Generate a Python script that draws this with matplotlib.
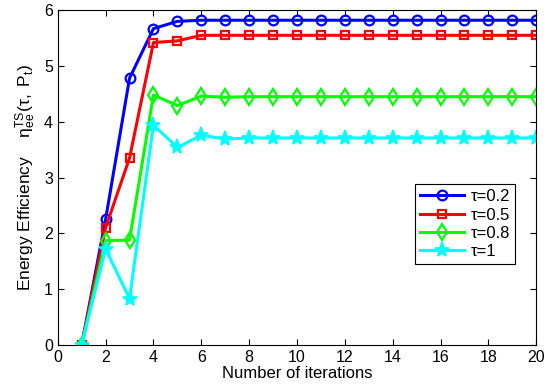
import matplotlib
matplotlib.use("Agg")
import matplotlib.pyplot as plt

iterations = list(range(1, 21))
tau02 = [0, 2.25, 4.78, 5.67, 5.80, 5.82] + [5.82] * 14
tau05 = [0, 2.10, 3.35, 5.42, 5.45, 5.55] + [5.55] * 14
tau08 = [0, 1.87, 1.88, 4.48, 4.29, 4.46, 4.44] + [4.45] * 13
tau1 = [0, 1.72, 0.83, 3.94, 3.54, 3.76, 3.69] + [3.71] * 13
labels = ["τ=0.2", "τ=0.5", "τ=0.8", "τ=1"]

plt.rcParams['font.family'] = ['Liberation Sans', 'DejaVu Sans']
plt.rcParams['mathtext.fontset'] = 'custom'
plt.rcParams['mathtext.rm'] = 'Liberation Sans'
plt.rcParams['mathtext.it'] = 'Liberation Sans'
fig = plt.figure(figsize=(5.5, 3.92), dpi=100)
ax = fig.add_axes([0.105, 0.12, 0.87, 0.854])

ax.plot(iterations, tau02, color='#0000ff', lw=2.2, marker='o', ms=7,
        mfc='none', mew=1.6, label=labels[0])
ax.plot(iterations, tau05, color='#ff0000', lw=2.2, marker='s', ms=6,
        mfc='none', mew=1.6, label=labels[1])
ax.plot(iterations, tau08, color='#00ff00', lw=2.2, marker='d', ms=8,
        mfc='none', mew=1.6, label=labels[2])
ax.plot(iterations, tau1, color='#00ffff', lw=2.2, marker='*', ms=11,
        mfc='#00ffff', mew=1.2, label=labels[3])

ax.set_xlim(0, 20)
ax.set_ylim(0, 6)
ax.set_xticks(range(0, 21, 2))
ax.set_yticks(range(0, 7))
ax.tick_params(direction='in', length=4, labelsize=11.5, top=True, right=True)
ax.set_xlabel("Number of iterations", fontsize=12, labelpad=1)
ax.set_ylabel(r"Energy Efficiency    $\mathregular{\eta_{ee}^{TS}(\tau,\ P_t)}$", fontsize=12.5, labelpad=4)

leg = ax.legend(loc='upper left', bbox_to_anchor=(0.73, 0.505), fontsize=12,
                frameon=True, fancybox=False, edgecolor='black', framealpha=1,
                handlelength=2.6, borderpad=0.3, labelspacing=0.2, handletextpad=0.4)
leg.get_frame().set_linewidth(0.8)

fig.savefig("out.png", dpi=100)
